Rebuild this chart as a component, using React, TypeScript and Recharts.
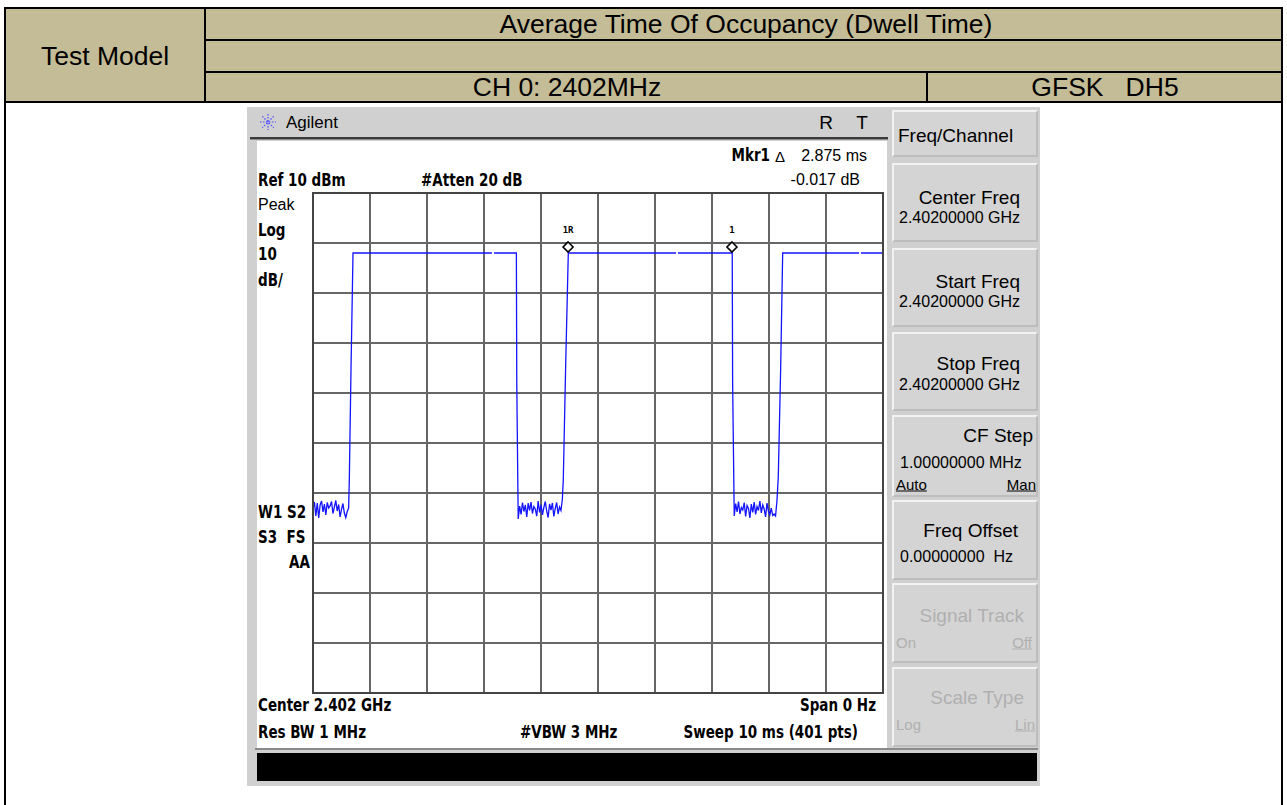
import React from "react";
import { CartesianGrid, Line, LineChart, ReferenceDot, XAxis, YAxis } from "recharts";

// sweep: 10 ms over 401 points
const sweepStep = 0.025;
const timeTicks = [0, 1, 2, 3, 4, 5, 6, 7, 8, 9, 10];
const levelTicks = [10, 0, -10, -20, -30, -40, -50, -60, -70, -80, -90];

// noise floor between bursts (dBm), read per sweep point
const noiseAStart = 0;
const noiseA = [
  -53.2, -51.8, -54.6, -52.0, -55.0, -52.4, -51.6, -53.8, -52.2, -54.4, -51.9, -53.0, -52.6,
  -51.7, -54.1, -52.8, -51.5, -53.6, -52.3, -54.8, -53.3, -52.1, -54.0, -54.9, -53.7, -53.0,
];
const noiseBStart = 3.6;
const noiseB = [
  -55.2, -52.6, -54.3, -51.9, -53.7, -52.4, -54.8, -52.0, -53.5, -51.8, -54.1, -52.7, -53.2,
  -54.6, -51.6, -53.9, -52.3, -54.4, -52.9, -51.7, -53.6, -54.9, -52.2, -53.4, -52.0, -54.7,
  -53.1, -51.9, -54.2, -52.8, -53.5, -51.2,
];
const noiseCStart = 7.39;
const noiseC = [
  -54.6, -52.1, -53.8, -51.7, -54.2, -52.9, -53.4, -51.9, -54.7, -52.5, -53.1, -55.0, -52.2,
  -53.9, -51.8, -54.3, -52.7, -53.5, -51.6, -54.0, -52.4, -53.2, -54.8, -52.0, -53.6, -54.4,
  -53.0, -54.5, -54.2, -54.6, -51.5,
];

// burst edges and tops [ms, dBm]; null = dropout in the drawn trace
const burstA: [number, number | null][] = [
  [0.637, -47.4], [0.667, -25], [0.702, -2], [3.14, -2], [3.158, null], [3.176, -2], [3.568, -2], [3.575, -28],
];
const burstB: [number, number | null][] = [
  [4.391, -47.4], [4.433, -24.4], [4.479, -2], [6.37, -2], [6.386, null], [6.402, -2], [7.355, -2], [7.362, -28],
];
const burstC: [number, number | null][] = [
  [8.163, -46.8], [8.205, -24.8], [8.24, -2], [9.58, -2], [9.596, null], [9.612, -2], [10, -2],
];

const markers = [
  { t: 4.475, v: -0.8, label: "1R" },
  { t: 7.35, v: -0.8, label: "1" },
];

const noisePts = (start: number, vals: number[]) => vals.map((v, i) => ({ t: +(start + i * sweepStep).toFixed(3), v }));
const edgePts = (pts: [number, number | null][]) => pts.map(([t, v]) => ({ t, v }));

const trace = [
  ...noisePts(noiseAStart, noiseA),
  ...edgePts(burstA),
  ...noisePts(noiseBStart, noiseB),
  ...edgePts(burstB),
  ...noisePts(noiseCStart, noiseC),
  ...edgePts(burstC),
];

const SANS = '"Liberation Sans", Arial, sans-serif';
const SA = '"DejaVu Sans Condensed", "DejaVu Sans", sans-serif';

type TProps = {
  x: number;
  y: number;
  children: React.ReactNode;
  align?: "left" | "right" | "center";
  size?: number;
  bold?: boolean;
  font?: string;
  color?: string;
  underline?: boolean;
  sy?: number;
};

function T({ x, y, children, align = "left", size = 15, bold, font = SA, color = "#000", underline, sy = 1 }: TProps) {
  const tx = align === "left" ? "0" : align === "right" ? "-100%" : "-50%";
  return (
    <div
      style={{
        position: "absolute",
        left: x,
        top: y,
        transform: `translate(${tx}, -50%) scaleY(${sy})`,
        fontFamily: font,
        fontSize: size,
        fontWeight: bold ? 700 : 400,
        color,
        whiteSpace: "pre",
        lineHeight: 1,
        textDecoration: underline ? "underline" : "none",
      }}
    >
      {children}
    </div>
  );
}

// instrument screen label: condensed bold, slightly tall
const B = (p: Omit<TProps, "bold" | "sy">) => <T {...p} bold sy={1.12} />;

function Box({ x, y, w, h, bg }: { x: number; y: number; w: number; h: number; bg: string }) {
  return <div style={{ position: "absolute", left: x, top: y, width: w, height: h, background: bg }} />;
}

function Softkey({ y, h, children }: { y: number; h: number; children?: React.ReactNode }) {
  return (
    <div
      style={{
        position: "absolute",
        left: 892,
        top: y,
        width: 146,
        height: h,
        boxSizing: "border-box",
        background: "#d4d4d4",
        borderTop: "2px solid #f2f2f2",
        borderLeft: "2px solid #f2f2f2",
        borderBottom: "2px solid #bdbdbd",
        borderRight: "2px solid #bdbdbd",
      }}
    >
      {children}
    </div>
  );
}

function Diamond(props: any) {
  const { cx, cy } = props;
  return <polygon points={`${cx},${cy - 5} ${cx + 5},${cy} ${cx},${cy + 5} ${cx - 5},${cy}`} fill="#fff" stroke="#000" strokeWidth={1.6} />;
}

function Analyzer() {
  return (
    <>
      {/* instrument frame */}
      <Box x={247} y={107} w={793} h={679} bg="#d0d0d0" />
      <Box x={250} y={137} w={638} h={2} bg="#3a3a3a" />
      <Box x={250} y={139} w={638} h={1} bg="#8a8a8a" />
      <Box x={257} y={141} w={630} h={607} bg="#fff" />
      <Box x={255} y={748} w={783} h={2} bg="#8a8a8a" />
      <Box x={257} y={753} w={780} h={28} bg="#000" />

      {/* logo */}
      <svg style={{ position: "absolute", left: 259, top: 113 }} width={18} height={18}>
        {[0, 45, 90, 135].map((a) => (
          <line
            key={a}
            x1={9 - 8 * Math.cos((a * Math.PI) / 180)}
            y1={9 - 8 * Math.sin((a * Math.PI) / 180)}
            x2={9 + 8 * Math.cos((a * Math.PI) / 180)}
            y2={9 + 8 * Math.sin((a * Math.PI) / 180)}
            stroke="#4a4aff"
            strokeWidth={1.2}
            strokeDasharray="1.5 1.5"
          />
        ))}
      </svg>
      <T x={286} y={122} size={17} font={SANS}>Agilent</T>
      <T x={826} y={122} size={19} font={SANS} align="center">R</T>
      <T x={862} y={122} size={19} font={SANS} align="center">T</T>

      <B x={770} y={156} align="right">Mkr1</B>
      <T x={780} y={156} size={15} font={SANS} align="center">Δ</T>
      <T x={867} y={156} size={16} font={SANS} align="right">2.875 ms</T>
      <T x={860} y={180} size={16} font={SANS} align="right">-0.017 dB</T>

      <B x={258} y={181}>Ref 10 dBm</B>
      <B x={421} y={181}>#Atten 20 dB</B>
      <T x={258} y={205} size={16} font={SANS}>Peak</T>
      <B x={258} y={231}>Log</B>
      <B x={258} y={255}>10</B>
      <B x={258} y={281}>dB/</B>
      <B x={258} y={513}>W1 S2</B>
      <B x={258} y={538}>S3  FS</B>
      <B x={310} y={563} align="right">AA</B>

      <B x={258} y={706}>Center 2.402 GHz</B>
      <B x={876} y={706} align="right">Span 0 Hz</B>
      <B x={258} y={733}>Res BW 1 MHz</B>
      <B x={520} y={733}>#VBW 3 MHz</B>
      <B x={858} y={733} align="right">Sweep 10 ms (401 pts)</B>

      {/* trace */}
      <div style={{ position: "absolute", left: 303, top: 183 }}>
        <LineChart width={590} height={520} data={trace} margin={{ top: 10, right: 10, bottom: 10, left: 10 }}>
          <CartesianGrid stroke="#666" strokeWidth={2} />
          <XAxis dataKey="t" type="number" domain={[0, 10]} ticks={timeTicks} hide />
          <YAxis type="number" domain={[-90, 10]} ticks={levelTicks} hide />
          <Line
            dataKey="v"
            type="linear"
            stroke="#1414ff"
            strokeWidth={1.3}
            dot={false}
            connectNulls={false}
            isAnimationActive={false}
          />
          {markers.map((m) => (
            <ReferenceDot
              key={m.label}
              x={m.t}
              y={m.v}
              r={5}
              shape={Diamond}
              label={{ value: m.label, position: "top", offset: 9, fontSize: 9, fontWeight: 700, fontFamily: '"DejaVu Sans Mono", monospace', fill: "#000" }}
            />
          ))}
        </LineChart>
      </div>
      <div
        style={{
          position: "absolute",
          left: 312,
          top: 192,
          width: 572,
          height: 502,
          boxSizing: "border-box",
          border: "2px solid #444",
          pointerEvents: "none",
        }}
      />

      {/* softkeys */}
      <Softkey y={110} h={47}>
        <T x={4} y={23} size={19} font={SANS}>Freq/Channel</T>
      </Softkey>
      <Softkey y={163} h={79}>
        <T x={126} y={32} size={19} font={SANS} align="right">Center Freq</T>
        <T x={5} y={53} size={16} font={SANS}>2.40200000 GHz</T>
      </Softkey>
      <Softkey y={248} h={79}>
        <T x={126} y={31} size={19} font={SANS} align="right">Start Freq</T>
        <T x={5} y={52} size={16} font={SANS}>2.40200000 GHz</T>
      </Softkey>
      <Softkey y={332} h={79}>
        <T x={126} y={29} size={19} font={SANS} align="right">Stop Freq</T>
        <T x={5} y={51} size={16} font={SANS}>2.40200000 GHz</T>
      </Softkey>
      <Softkey y={415} h={82}>
        <T x={139} y={18} size={19} font={SANS} align="right">CF Step</T>
        <T x={6} y={46} size={16} font={SANS}>1.00000000 MHz</T>
        <T x={2} y={67} size={15} font={SANS} underline>Auto</T>
        <T x={142} y={67} size={15} font={SANS} align="right" underline>Man</T>
      </Softkey>
      <Softkey y={500} h={80}>
        <T x={124} y={28} size={19} font={SANS} align="right">Freq Offset</T>
        <T x={6} y={55} size={16} font={SANS}>0.00000000  Hz</T>
      </Softkey>
      <Softkey y={583} h={80}>
        <T x={130} y={30} size={19} font={SANS} align="right" color="#b0b0b0">Signal Track</T>
        <T x={2} y={57} size={15} font={SANS} color="#b0b0b0">On</T>
        <T x={138} y={57} size={15} font={SANS} align="right" color="#b0b0b0" underline>Off</T>
      </Softkey>
      <Softkey y={667} h={80}>
        <T x={130} y={28} size={19} font={SANS} align="right" color="#b0b0b0">Scale Type</T>
        <T x={2} y={55} size={15} font={SANS} color="#b0b0b0">Log</T>
        <T x={141} y={55} size={15} font={SANS} align="right" color="#b0b0b0" underline>Lin</T>
      </Softkey>
    </>
  );
}

export default function App() {
  const tan = "#c4bc96";
  return (
    <div style={{ position: "absolute", left: 0, top: 0, width: 1287, height: 805, background: "#fff", overflow: "hidden" }}>
      {/* report header table */}
      <Box x={5} y={8} w={1277} h={94} bg={tan} />
      <Box x={5} y={7} w={1277} h={2} bg="#000" />
      <Box x={205} y={39} w={1077} h={2} bg="#000" />
      <Box x={205} y={71} w={1077} h={2} bg="#000" />
      <Box x={5} y={101} w={1277} h={2} bg="#000" />
      <Box x={4} y={7} w={2} h={798} bg="#000" />
      <Box x={1281} y={7} w={2} h={798} bg="#000" />
      <Box x={204} y={7} w={2} h={95} bg="#000" />
      <Box x={926} y={71} w={2} h={31} bg="#000" />
      <T x={105} y={56} size={26.5} font={SANS} align="center">Test Model</T>
      <T x={746} y={24} size={26.5} font={SANS} align="center">Average Time Of Occupancy (Dwell Time)</T>
      <T x={567} y={87} size={26.5} font={SANS} align="center">CH 0: 2402MHz</T>
      <T x={1105} y={87} size={26.5} font={SANS} align="center">GFSK   DH5</T>

      <Analyzer />
    </div>
  );
}
